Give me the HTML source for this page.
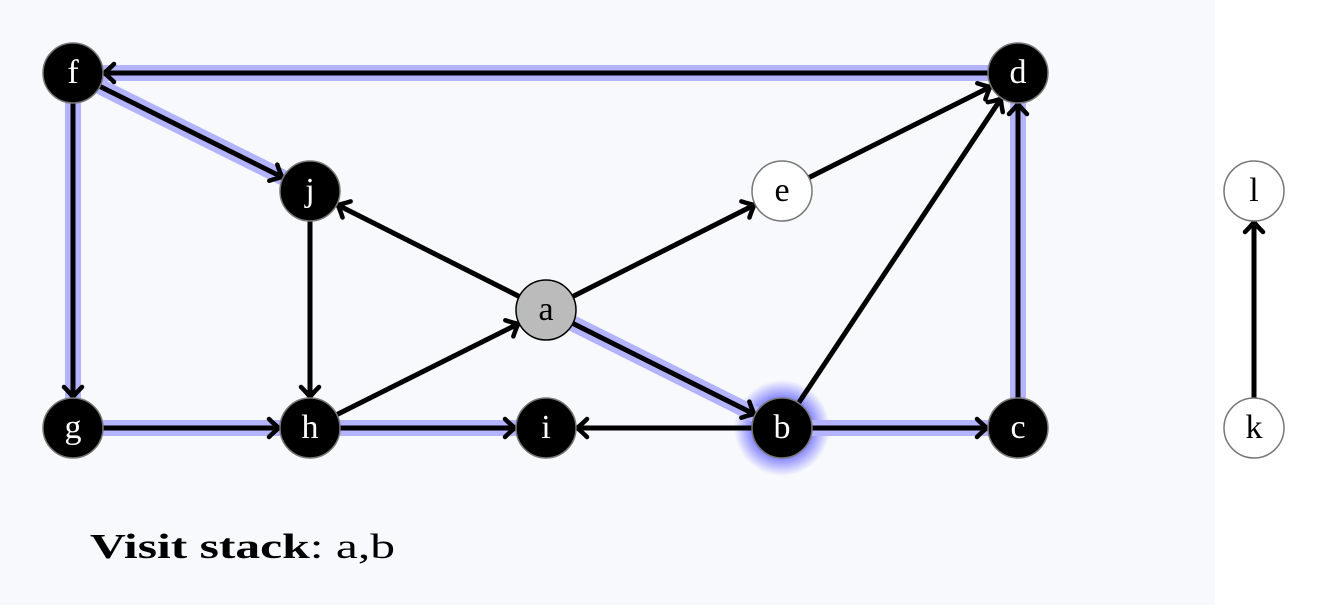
<!DOCTYPE html>
<html><head><meta charset="utf-8"><style>
html,body{margin:0;padding:0;background:#fff;}
svg{display:block;}
text{font-family:"Liberation Serif",serif;}
</style></head><body>
<svg id="s" width="1330" height="609" viewBox="0 0 1330 609" xmlns="http://www.w3.org/2000/svg">
<defs>
<radialGradient id="glow"><stop offset="0.55" stop-color="#7070ff" stop-opacity="1"/><stop offset="1" stop-color="#7070ff" stop-opacity="0"/></radialGradient>
<marker id="ar" markerUnits="userSpaceOnUse" markerWidth="30" markerHeight="30" refX="14" refY="15" orient="auto">
<path d="M4,6 Q10,12 14,15 Q10,18 4,24" fill="none" stroke="#000" stroke-width="4.5" stroke-linecap="round"/>
</marker>
</defs>
<rect x="0" y="0" width="1215" height="605" fill="#f8f9fc"/>
<circle cx="782" cy="428" r="48" fill="url(#glow)"/>
<g id="hl"></g>
<g id="ed"></g>
<g id="nd"></g>
<text x="90" y="558" font-size="35" textLength="305" lengthAdjust="spacingAndGlyphs"><tspan font-weight="bold">Visit stack</tspan>: a,b</text>
</svg>
<script>
var N={f:[73,73],d:[1018,73],j:[310,191],e:[782,191],l:[1254,191],a:[546,310],g:[73,428],h:[310,428],i:[546,428],b:[782,428],c:[1018,428],k:[1254,428]};
var ns="http://www.w3.org/2000/svg";
function el(t,a,p){var e=document.createElementNS(ns,t);for(var k in a)e.setAttribute(k,a[k]);document.getElementById(p).appendChild(e);return e;}
var E=[["d","f",1],["f","j",1],["f","g",1],["g","h",1],["h","i",1],["a","b",1],["b","c",1],["c","d",1],["j","h",0],["a","j",0],["a","e",0],["e","d",0],["b","d",0],["h","a",0],["b","i",0],["k","l",0]];
E.forEach(function(x){var p=N[x[0]],q=N[x[1]],dx=q[0]-p[0],dy=q[1]-p[1],L=Math.hypot(dx,dy),ux=dx/L,uy=dy/L;
var x1=p[0]+ux*30,y1=p[1]+uy*30,x2=q[0]-ux*31,y2=q[1]-uy*31;
if(x[2])el("line",{x1:x1,y1:y1,x2:q[0]-ux*30,y2:q[1]-uy*30,stroke:"#b3b3ff","stroke-width":16},"hl");
el("line",{x1:x1,y1:y1,x2:x2,y2:y2,stroke:"#000","stroke-width":5,"marker-end":"url(#ar)"},"ed");});
for(var k in N){var p=N[k],black="fdjghicb".indexOf(k)>=0;
el("circle",{cx:p[0],cy:p[1],r:30,fill:black?"#000":(k=="a"?"#bbb":"#fff"),stroke:k=="a"?"#000":"#777","stroke-width":1.5},"nd");
var t=el("text",{x:p[0],y:p[1]+10,"text-anchor":"middle","font-size":34,fill:black?"#fff":"#000"},"nd");t.textContent=k;}
</script>
</body></html>
